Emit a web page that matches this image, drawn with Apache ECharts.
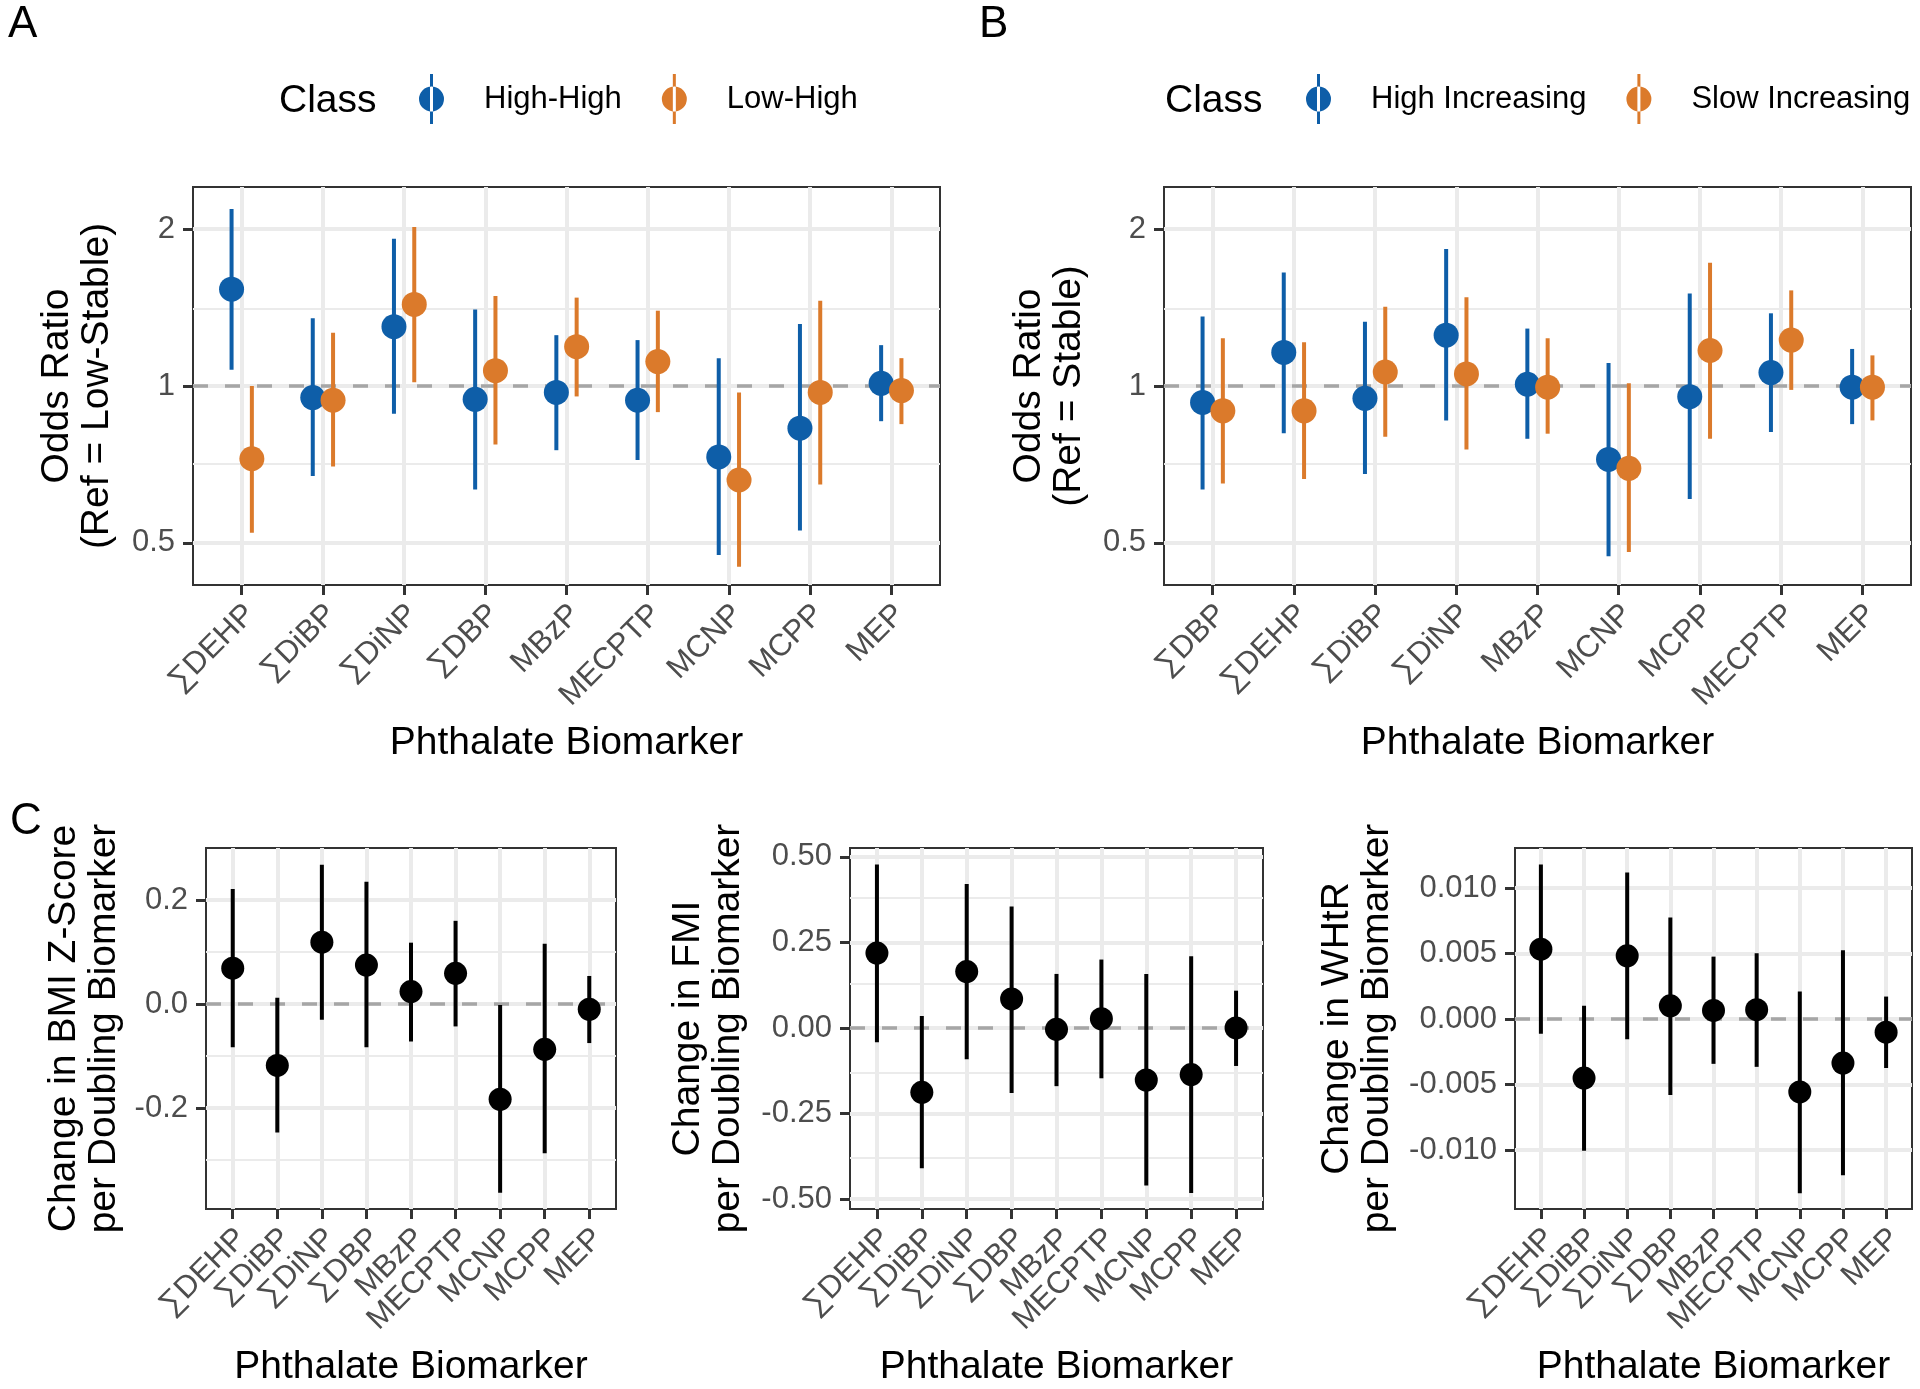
<!DOCTYPE html>
<html><head><meta charset="utf-8">
<script src="https://cdn.jsdelivr.net/npm/echarts@6/dist/echarts.min.js"></script>
<style>html,body{margin:0;padding:0;background:#fff}#c{width:1920px;height:1389px}</style>
</head><body><div id="c"></div><script>
const catsA = ['∑DEHP','∑DiBP','∑DiNP','∑DBP','MBzP','MECPTP','MCNP','MCPP','MEP'];
const catsB = ['∑DBP','∑DEHP','∑DiBP','∑DiNP','MBzP','MCNP','MCPP','MECPTP','MEP'];
const catsC = ['∑DEHP','∑DiBP','∑DiNP','∑DBP','MBzP','MECPTP','MCNP','MCPP','MEP'];

// Panel A (Ref = Low-Stable)
const aHighHighEst = [1.534,0.950,1.300,0.943,0.972,0.939,0.731,0.830,1.012];
const aHighHighLo  = [1.075,0.672,0.885,0.633,0.753,0.721,0.474,0.528,0.856];
const aHighHighHi  = [2.187,1.349,1.917,1.402,1.252,1.225,1.130,1.315,1.198];
const aLowHighEst  = [0.725,0.939,1.434,1.070,1.190,1.114,0.660,0.972,0.980];
const aLowHighLo   = [0.523,0.701,1.017,0.772,0.955,0.891,0.450,0.647,0.845];
const aLowHighHi   = [1.000,1.265,2.020,1.488,1.478,1.395,0.972,1.458,1.131];
// Panel B (Ref = Stable)
const bHighIncEst = [0.930,1.160,0.947,1.252,1.008,0.723,0.954,1.061,0.995];
const bHighIncLo  = [0.633,0.812,0.678,0.859,0.792,0.471,0.607,0.816,0.845];
const bHighIncHi  = [1.360,1.652,1.329,1.832,1.289,1.107,1.506,1.379,1.178];
const bSlowIncEst = [0.896,0.896,1.064,1.055,0.995,0.695,1.170,1.225,0.995];
const bSlowIncLo  = [0.650,0.663,0.799,0.755,0.810,0.480,0.792,0.983,0.859];
const bSlowIncHi  = [1.235,1.214,1.419,1.480,1.235,1.012,1.724,1.526,1.145];
// Panel C
const bmiEst = [0.069,-0.118,0.119,0.075,0.024,0.059,-0.183,-0.087,-0.010];
const bmiLo  = [-0.083,-0.247,-0.030,-0.083,-0.072,-0.043,-0.363,-0.287,-0.075];
const bmiHi  = [0.221,0.012,0.268,0.235,0.118,0.160,-0.002,0.116,0.054];
const fmiEst = [0.219,-0.188,0.165,0.085,-0.004,0.027,-0.152,-0.136,0.000];
const fmiLo  = [-0.042,-0.410,-0.091,-0.190,-0.170,-0.147,-0.460,-0.482,-0.111];
const fmiHi  = [0.478,0.035,0.421,0.355,0.158,0.200,0.158,0.210,0.109];
const whtrEst = [0.00534,-0.00451,0.00483,0.00101,0.00066,0.00072,-0.00557,-0.00336,-0.00100];
const whtrLo  = [-0.00112,-0.01006,-0.00155,-0.00580,-0.00342,-0.00365,-0.01330,-0.01193,-0.00374];
const whtrHi  = [0.01180,0.00101,0.01120,0.00776,0.00477,0.00503,0.00210,0.00526,0.00172];

// Tick labels / gridline values
const catTicks = [0,1,2,3,4,5,6,7,8];
const catTicksEven = [0,2,4,6,8];
const catTicksOdd = [1,3,5,7];
const orTicks = [0.5,1,2];
const orMinor = [0.70711,1.41421];
const bmiTicks = [-0.2,0,0.2];
const bmiMinor = [-0.3,-0.1,0.1];
const fmiTicks = [-0.5,-0.25,0,0.25,0.5];
const fmiMinor = [-0.375,-0.125,0.125,0.375];
const whtrTicks = [-0.01,-0.005,0,0.005,0.01];
const whtrMinor = [-0.0125,-0.0075,-0.0025,0.0025,0.0075,0.0125];

const BLUE = '#0E5EA8', ORANGE = '#DB7A2B';
const FONT = '"Liberation Sans", Arial, Helvetica, sans-serif';

const grids = [
  {left:193, top:187, width:747, height:398},
  {left:1164, top:187, width:747, height:398},
  {left:206, top:848, width:410, height:361},
  {left:850, top:848, width:413, height:361},
  {left:1515, top:848, width:397, height:361}
].map(g => Object.assign({show:true, borderColor:'#333333', borderWidth:2, backgroundColor:'#fff'}, g));

const labelStyle = {rotate:45, align:'right', verticalAlign:'top', margin:16, fontSize:31, lineHeight:24,
  color:'#4d4d4d', fontFamily:FONT, interval:0, showMinLabel:true, showMaxLabel:true, hideOverlap:false};

function xAx(g, cats, gap, labelVals) {
  return {type:'value', gridIndex:g, min:-0.6, max:8.6, position:'bottom',
    axisLine:{show:false, onZero:false},
    axisTick:{show:true, customValues:catTicks, length:10, lineStyle:{color:'#333', width:3}},
    axisLabel:Object.assign({customValues:labelVals, formatter:v => cats[Math.round(v)]}, labelStyle),
    splitLine:{show:true, lineStyle:{color:'#ebebeb', width:4}},
    name:'Phthalate Biomarker', nameLocation:'middle', nameGap:gap,
    nameTextStyle:{fontSize:39, color:'#000', fontFamily:FONT}};
}
// extra label-only axis (odd categories) for the narrow panels
function xAxLabels(g, cats, labelVals) {
  return {type:'value', gridIndex:g, min:-0.6, max:8.6, position:'bottom', offset:0,
    axisLine:{show:false, onZero:false}, axisTick:{show:false}, splitLine:{show:false},
    axisLabel:Object.assign({customValues:labelVals, formatter:v => cats[Math.round(v)]}, labelStyle)};
}
function yAx(g, opt) {
  return Object.assign({gridIndex:g,
    axisLine:{show:false, onZero:false},
    axisTick:{show:true, customValues:opt.ticks, length:10, lineStyle:{color:'#333', width:3}},
    axisLabel:{customValues:opt.ticks, formatter:opt.fmt, margin:18, fontSize:31, color:'#4d4d4d', fontFamily:FONT,
      showMinLabel:true, showMaxLabel:true},
    splitLine:{show:true, lineStyle:{color:'#ebebeb', width:4}},
    nameLocation:'middle', nameRotate:90,
    nameTextStyle:{fontSize:39, lineHeight:40, color:'#000', fontFamily:FONT}}, opt.extra);
}

function gridMarks(minor, ref) {
  return {silent:true, symbol:'none', z:1, label:{show:false}, animation:false,
    emphasis:{disabled:true},
    data: minor.map(v => ({yAxis:v, lineStyle:{color:'#ebebeb', width:2, type:'solid'}}))
      .concat([{yAxis:ref, lineStyle:{color:'#a6a6a6', width:3.5, type:[15,17]}}])};
}

function errSeries(name, g, est, lo, hi, color, dodge, r, marks) {
  const s = {type:'custom', name, xAxisIndex:g, yAxisIndex:g, z:3, animation:false,
    itemStyle:{color},
    data: est.map((v,i) => [i, v, lo[i], hi[i]]),
    encode:{x:0, y:[1,2,3]},
    renderItem(params, api) {
      const x = api.value(0) + dodge;
      const p = api.coord([x, api.value(1)]);
      const pl = api.coord([x, api.value(2)]);
      const ph = api.coord([x, api.value(3)]);
      return {type:'group', children:[
        {type:'line', shape:{x1:pl[0], y1:pl[1], x2:ph[0], y2:ph[1]}, style:{stroke:color, lineWidth:4}},
        {type:'circle', shape:{cx:p[0], cy:p[1], r}, style:{fill:color}}
      ]};
    }};
  if (marks) s.markLine = marks;
  return s;
}

const ICON = 'path://M11,0 L14,0 L14,50 L11,50 Z M0,25 A12.5,12.5 0 1,0 25,25 A12.5,12.5 0 1,0 0,25 Z';
const DOD = 0.125;

const option = {
  animation:false,
  textStyle:{fontFamily:FONT},
  grid: grids,
  xAxis: [
    xAx(0, catsA, 139, catTicks), xAx(1, catsB, 139, catTicks),
    xAx(2, catsC, 139, catTicksEven), xAx(3, catsC, 139, catTicksEven), xAx(4, catsC, 139, catTicksEven),
    xAxLabels(2, catsC, catTicksOdd), xAxLabels(3, catsC, catTicksOdd), xAxLabels(4, catsC, catTicksOdd)
  ],
  yAxis: [
    yAx(0, {ticks:orTicks, fmt:v => String(v), extra:{type:'log', logBase:2, min:0.415, max:2.41, name:'Odds Ratio\n(Ref = Low-Stable)', nameGap:76}}),
    yAx(1, {ticks:orTicks, fmt:v => String(v), extra:{type:'log', logBase:2, min:0.415, max:2.41, name:'Odds Ratio\n(Ref = Stable)', nameGap:75}}),
    yAx(2, {ticks:bmiTicks, fmt:v => v.toFixed(1), extra:{type:'value', min:-0.394, max:0.300, name:'Change in BMI Z-Score\nper Doubling Biomarker', nameGap:82}}),
    yAx(3, {ticks:fmiTicks, fmt:v => v.toFixed(2), extra:{type:'value', min:-0.529, max:0.526, name:'Change in FMI\nper Doubling Biomarker', nameGap:102}}),
    yAx(4, {ticks:whtrTicks, fmt:v => v.toFixed(3), extra:{type:'value', min:-0.01451, max:0.01307, name:'Change in WHtR\nper Doubling Biomarker', nameGap:118}})
  ],
  legend: [
    {left:414, top:69, orient:'horizontal', itemWidth:25, itemHeight:50, itemGap:40, icon:ICON, selectedMode:false,
      data:['High-High','Low-High'], textStyle:{fontSize:31, color:'#000', padding:[0,0,0,35], fontFamily:FONT}},
    {left:1301, top:69, orient:'horizontal', itemWidth:25, itemHeight:50, itemGap:40, icon:ICON, selectedMode:false,
      data:['High Increasing','Slow Increasing'], textStyle:{fontSize:31, color:'#000', padding:[0,0,0,35], fontFamily:FONT}}
  ],
  graphic: [
    {type:'text', left:8, top:3, style:{text:'A', fontSize:44, fill:'#000', fontFamily:FONT}},
    {type:'text', left:979, top:3, style:{text:'B', fontSize:44, fill:'#000', fontFamily:FONT}},
    {type:'text', left:10, top:800, style:{text:'C', fontSize:44, fill:'#000', fontFamily:FONT}, z:10},
    {type:'text', left:279, top:82, style:{text:'Class', fontSize:39, fill:'#000', fontFamily:FONT}},
    {type:'text', left:1165, top:82, style:{text:'Class', fontSize:39, fill:'#000', fontFamily:FONT}}
  ],
  series: [
    errSeries('High-High', 0, aHighHighEst, aHighHighLo, aHighHighHi, BLUE, -DOD, 12.5, gridMarks(orMinor, 1)),
    errSeries('Low-High', 0, aLowHighEst, aLowHighLo, aLowHighHi, ORANGE, DOD, 12.5),
    errSeries('High Increasing', 1, bHighIncEst, bHighIncLo, bHighIncHi, BLUE, -DOD, 12.5, gridMarks(orMinor, 1)),
    errSeries('Slow Increasing', 1, bSlowIncEst, bSlowIncLo, bSlowIncHi, ORANGE, DOD, 12.5),
    errSeries('BMI', 2, bmiEst, bmiLo, bmiHi, '#000', 0, 11.5, gridMarks(bmiMinor, 0)),
    errSeries('FMI', 3, fmiEst, fmiLo, fmiHi, '#000', 0, 11.5, gridMarks(fmiMinor, 0)),
    errSeries('WHtR', 4, whtrEst, whtrLo, whtrHi, '#000', 0, 11.5, gridMarks(whtrMinor, 0))
  ]
};
const chart = echarts.init(document.getElementById('c'), null, {renderer:'canvas'});
chart.setOption(option);
</script></body></html>
